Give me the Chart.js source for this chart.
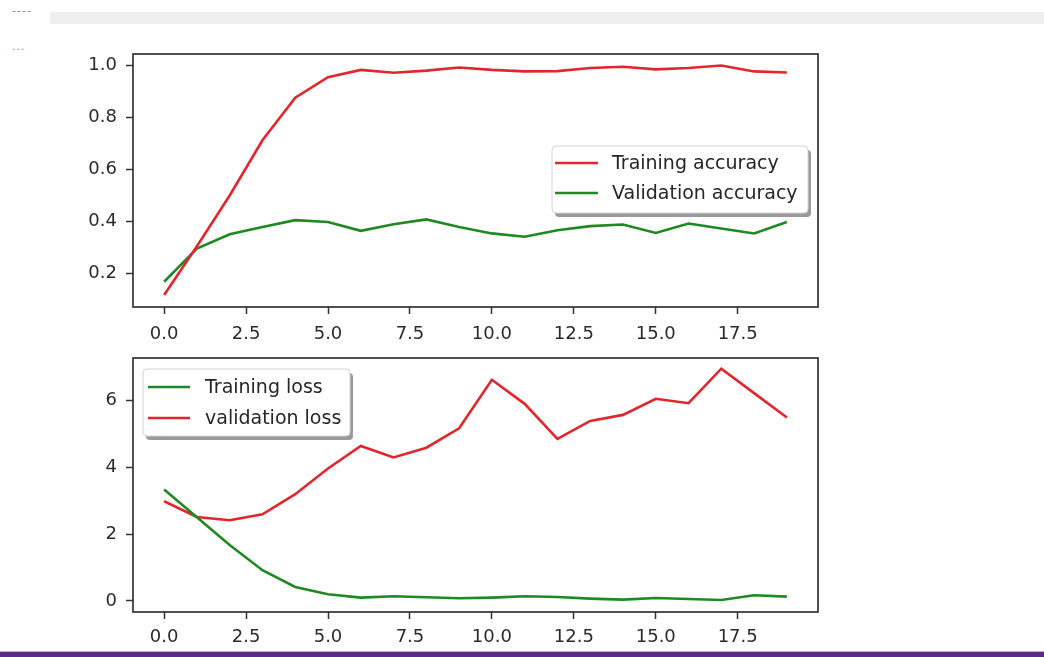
<!DOCTYPE html>
<html>
<head>
<meta charset="utf-8">
<script src="https://cdn.jsdelivr.net/npm/chart.js@4.4.0/dist/chart.umd.min.js"></script>
<style>
  body { margin: 0; background: #fff; width: 1044px; height: 657px; overflow: hidden; position: relative; font-family: "DejaVu Sans", sans-serif; }
  #bar { position: absolute; left: 50px; top: 12px; width: 994px; height: 12px; background: #efefef; }
  .dots { position: absolute; left: 12px; color: #888; font-size: 11px; letter-spacing: 1px; }
  #purple { position: absolute; left: 0; top: 651px; width: 1044px; height: 5px; background: #5b2a86; border-top: 1px solid #c6a6dc; }
  canvas { position: absolute; left: 0; }
</style>
</head>
<body>
<div class="dots" style="top:4px">----</div>
<div id="bar"></div>
<div class="dots" style="top:40px">...</div>
<canvas id="accChart" width="1044" height="340" style="top:0"></canvas>
<canvas id="lossChart" width="1044" height="317" style="top:340px"></canvas>
<div id="purple"></div>
<script>
// values
var epochs = [0, 1, 2, 3, 4, 5, 6, 7, 8, 9, 10, 11, 12, 13, 14, 15, 16, 17, 18, 19];
var trainAcc = [0.117, 0.305, 0.50, 0.712, 0.876, 0.955, 0.983, 0.972, 0.980, 0.992, 0.983, 0.977, 0.978, 0.990, 0.995, 0.985, 0.990, 1.000, 0.977, 0.973];
var valAcc = [0.168, 0.296, 0.351, 0.379, 0.405, 0.398, 0.364, 0.389, 0.408, 0.379, 0.354, 0.341, 0.366, 0.382, 0.388, 0.356, 0.392, 0.373, 0.354, 0.398];
var trainLoss = [3.33, 2.50, 1.67, 0.92, 0.42, 0.20, 0.10, 0.14, 0.11, 0.08, 0.10, 0.14, 0.12, 0.07, 0.04, 0.09, 0.06, 0.03, 0.17, 0.13];
var valLoss = [2.98, 2.51, 2.41, 2.59, 3.19, 3.96, 4.63, 4.29, 4.58, 5.16, 6.61, 5.89, 4.84, 5.38, 5.56, 6.04, 5.91, 6.94, 6.21, 5.48];

var xTicks = [0, 2.5, 5, 7.5, 10, 12.5, 15, 17.5];
var accTicks = [0.2, 0.4, 0.6, 0.8, 1.0];
var lossTicks = [0, 2, 4, 6];

var RED = '#e3262b';
var GREEN = '#1f8a24';
var FONT = { family: 'DejaVu Sans', size: 18 };
var LEGEND_FONT = '19px "DejaVu Sans"';

function pts(ys) {
    return epochs.map(function (e, i) { return { x: e, y: ys[i] }; });
}

// black box round the plot area
var frame = {
    id: 'frame',
    afterDraw: function (chart) {
        var a = chart.chartArea, ctx = chart.ctx;
        ctx.save();
        ctx.strokeStyle = '#333';
        ctx.lineWidth = 1.7;
        ctx.strokeRect(a.left, a.top, a.right - a.left, a.bottom - a.top);
        ctx.restore();
    }
};

function roundRect(ctx, x, y, w, h, r) {
    ctx.beginPath();
    ctx.moveTo(x + r, y);
    ctx.arcTo(x + w, y, x + w, y + h, r);
    ctx.arcTo(x + w, y + h, x, y + h, r);
    ctx.arcTo(x, y + h, x, y, r);
    ctx.arcTo(x, y, x + w, y, r);
    ctx.closePath();
}

// matplotlib-like legend with shadow, inside the axes
var boxLegend = {
    id: 'boxLegend',
    afterDraw: function (chart, args, o) {
        var ctx = chart.ctx;
        ctx.save();
        roundRect(ctx, o.x + 3, o.y + 4, o.w, o.h, 4);
        ctx.fillStyle = '#9a9a9a';
        ctx.fill();
        roundRect(ctx, o.x, o.y, o.w, o.h, 4);
        ctx.fillStyle = '#fff';
        ctx.fill();
        ctx.strokeStyle = '#d4d4d4';
        ctx.lineWidth = 1;
        ctx.stroke();
        ctx.font = LEGEND_FONT;
        ctx.textBaseline = 'middle';
        chart.data.datasets.forEach(function (ds, i) {
            var y = o.y + o.rowTop + i * o.rowGap;
            ctx.beginPath();
            ctx.moveTo(o.x + o.handleX, y);
            ctx.lineTo(o.x + o.handleX + o.handleLen, y);
            ctx.strokeStyle = ds.borderColor;
            ctx.lineWidth = ds.borderWidth;
            ctx.stroke();
            ctx.fillStyle = '#262626';
            ctx.fillText(ds.label, o.x + o.textX, y + 1);
        });
        ctx.restore();
    }
};

function xScale(axisHeight, pad) {
    return {
        type: 'linear', min: -0.95, max: 19.95,
        afterBuildTicks: function (s) { s.ticks = xTicks.map(function (v) { return { value: v }; }); },
        afterFit: function (s) { s.height = axisHeight; s.paddingLeft = 0; s.paddingRight = 0; },
        grid: { drawOnChartArea: false, drawTicks: true, tickLength: 7, tickWidth: 1.5, tickColor: '#333' },
        border: { display: false },
        ticks: { color: '#2b2b2b', font: FONT, padding: pad, maxRotation: 0, autoSkip: false,
                 callback: function (v) { return v.toFixed(1); } }
    };
}

function yScale(min, max, list, fmt) {
    return {
        type: 'linear', min: min, max: max,
        afterBuildTicks: function (s) { s.ticks = list.map(function (v) { return { value: v }; }); },
        afterFit: function (s) { s.width = 133; s.paddingTop = 0; s.paddingBottom = 0; },
        grid: { drawOnChartArea: false, drawTicks: true, tickLength: 7, tickWidth: 1.5, tickColor: '#333' },
        border: { display: false },
        ticks: { color: '#2b2b2b', font: FONT, padding: 9, autoSkip: false, callback: fmt }
    };
}

function line(label, ys, color) {
    return { label: label, data: pts(ys), borderColor: color, borderWidth: 2.6,
             pointRadius: 0, tension: 0, fill: false };
}

new Chart(document.getElementById('accChart').getContext('2d'), {
    type: 'line',
    data: {
        datasets: [
            line('Training accuracy', trainAcc, RED),
            line('Validation accuracy', valAcc, GREEN)
        ]
    },
    options: {
        responsive: false,
        animation: false,
        layout: { padding: { top: 54, right: 226, left: 0, bottom: 0 } },
        scales: {
            x: xScale(33, 10),
            y: yScale(0.071, 1.044, accTicks, function (v) { return v.toFixed(1); })
        },
        plugins: {
            legend: { display: false },
            tooltip: { enabled: false },
            boxLegend: { x: 552, y: 146, w: 256, h: 67, handleX: 3, handleLen: 43, textX: 60, rowTop: 17, rowGap: 30 }
        }
    },
    plugins: [frame, boxLegend]
});

new Chart(document.getElementById('lossChart').getContext('2d'), {
    type: 'line',
    data: {
        datasets: [
            line('Training loss', trainLoss, GREEN),
            line('validation loss', valLoss, RED)
        ]
    },
    options: {
        responsive: false,
        animation: false,
        layout: { padding: { top: 18, right: 226, left: 0, bottom: 0 } },
        scales: {
            x: xScale(45, 8),
            y: yScale(-0.33, 7.26, lossTicks, function (v) { return String(v); })
        },
        plugins: {
            legend: { display: false },
            tooltip: { enabled: false },
            boxLegend: { x: 143, y: 29, w: 207, h: 67, handleX: 5, handleLen: 42, textX: 62, rowTop: 18, rowGap: 31 }
        }
    },
    plugins: [frame, boxLegend]
});
</script>
</body>
</html>
